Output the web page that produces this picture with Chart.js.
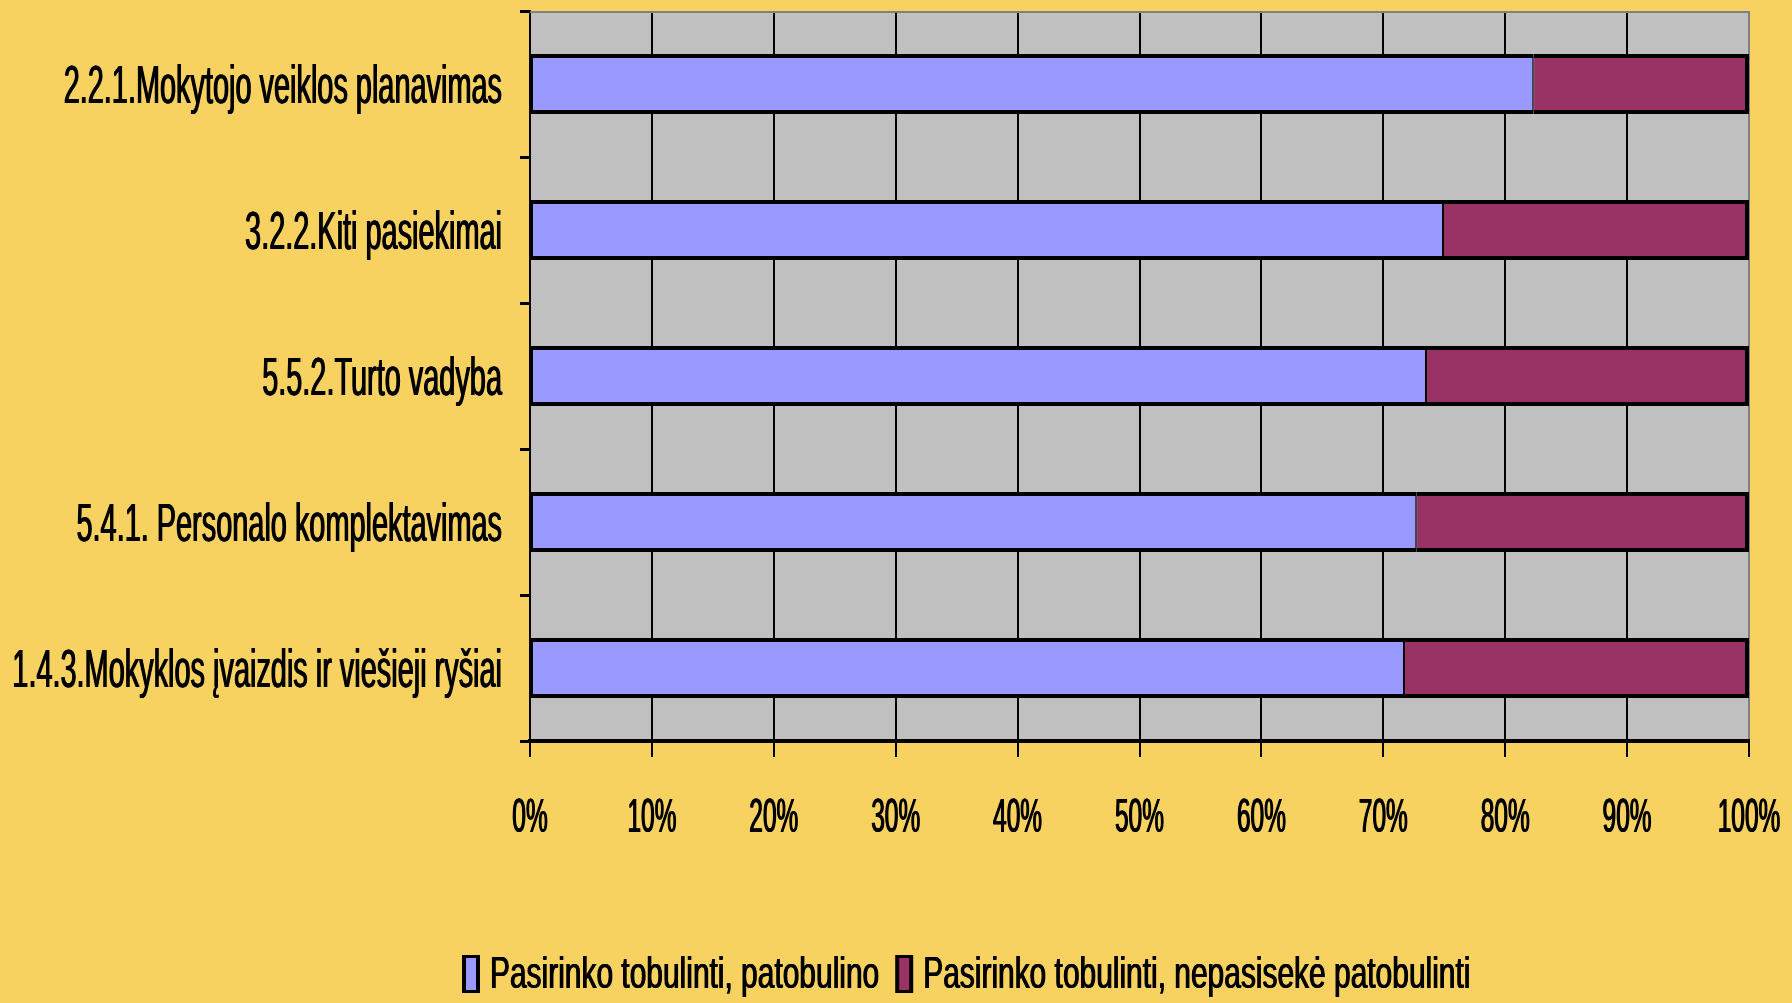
<!DOCTYPE html>
<html>
<head>
<meta charset="utf-8">
<script src="https://cdn.jsdelivr.net/npm/chart.js@4.4.1/dist/chart.umd.min.js"></script>
<style>
html,body{margin:0;padding:0;background:#F7D260;overflow:hidden}
#wrap{width:1792px;height:1003px;position:relative}
</style>
</head>
<body>
<div id="wrap"><canvas id="c"></canvas></div>
<script>
// ---- data ----
const categories = [
  '2.2.1.Mokytojo veiklos planavimas',
  '3.2.2.Kiti pasiekimai',
  '5.5.2.Turto vadyba',
  '5.4.1. Personalo komplektavimas',
  '1.4.3.Mokyklos įvaizdis ir viešieji ryšiai'
];
const improvedPct = [82.3, 74.9, 73.5, 72.7, 71.7];
const notImprovedPct = [17.7, 25.1, 26.5, 27.3, 28.3];
const seriesNames = ['Pasirinko tobulinti, patobulino', 'Pasirinko tobulinti, nepasisekė patobulinti'];
const seriesColors = ['#9999FF', '#993366'];
const xTickValues = [0, 10, 20, 30, 40, 50, 60, 70, 80, 90, 100];
const xTickLabels = ['0%', '10%', '20%', '30%', '40%', '50%', '60%', '70%', '80%', '90%', '100%'];

// ---- drawing helpers ----
const FONT = '"Liberation Sans", Arial, sans-serif';
const BG = '#F7D260';
const PLOT_BG = '#C0C0C0';

function drawNarrow(ctx, text, x, y, size, sx, align, bold) {
  let w = 0;
  const offs = [0, bold * 0.5, bold];
  offs.forEach((dx) => {
    ctx.save();
    ctx.translate(x + dx - bold / 2, y);
    ctx.scale(sx, 1);
    ctx.font = size + 'px ' + FONT;
    ctx.textAlign = align;
    ctx.textBaseline = 'alphabetic';
    ctx.fillStyle = '#000';
    ctx.fillText(text, 0, 0);
    w = ctx.measureText(text).width * sx;
    ctx.restore();
  });
  return w;
}

const decor = {
  id: 'decor',
  beforeDraw(chart) {
    const ctx = chart.ctx, a = chart.chartArea;
    ctx.save();
    ctx.fillStyle = BG;
    ctx.fillRect(0, 0, chart.width, chart.height);
    ctx.fillStyle = PLOT_BG;
    ctx.fillRect(a.left, a.top, a.right - a.left, a.bottom - a.top);
    ctx.restore();
  },
  beforeDatasetsDraw(chart) {
    const ctx = chart.ctx, a = chart.chartArea;
    ctx.save();
    ctx.strokeStyle = '#808080';
    ctx.lineWidth = 2;
    ctx.beginPath();
    ctx.moveTo(a.left, a.top + 1);
    ctx.lineTo(a.right + 1, a.top + 1);
    ctx.stroke();
    ctx.restore();
  },
  afterDraw(chart) {
    const ctx = chart.ctx, a = chart.chartArea;
    const ys = chart.scales.y, xs = chart.scales.x;
    // category labels
    categories.forEach((lab, i) => {
      const y = ys.getPixelForValue(i) + 19;
      drawNarrow(ctx, lab, a.left - 28, y, 54, 0.535, 'right', 1.0);
    });
    // value tick labels
    xTickValues.forEach((v, i) => {
      drawNarrow(ctx, xTickLabels[i], xs.getPixelForValue(v), 832, 48, 0.51, 'center', 1.0);
    });
    // legend
    let x = 462;
    chart.data.datasets.forEach((ds) => {
      ctx.save();
      ctx.fillStyle = '#000';
      ctx.fillRect(x, 955, 18, 38);
      ctx.fillStyle = ds.backgroundColor;
      ctx.fillRect(x + 4, 958, 10, 32);
      ctx.restore();
      const w = drawNarrow(ctx, ds.label, x + 28, 988, 44, 0.68, 'left', 1.0);
      x = x + 28 + w + 16;
    });
  }
};

new Chart(document.getElementById('c'), {
  type: 'bar',
  data: {
    labels: categories,
    datasets: [
      {
        label: seriesNames[0],
        data: improvedPct,
        backgroundColor: seriesColors[0],
        borderColor: '#000',
        borderWidth: {top: 4, bottom: 4, left: 2, right: 1},
        borderSkipped: false
      },
      {
        label: seriesNames[1],
        data: notImprovedPct,
        backgroundColor: seriesColors[1],
        borderColor: '#000',
        borderWidth: {top: 4, bottom: 4, left: 1, right: 4},
        borderSkipped: false
      }
    ]
  },
  options: {
    indexAxis: 'y',
    responsive: true,
    maintainAspectRatio: false,
    animation: false,
    devicePixelRatio: 1,
    layout: {padding: {left: 0, top: 11, right: 43, bottom: 0}},
    datasets: {bar: {barPercentage: 0.41, categoryPercentage: 1}},
    plugins: {legend: {display: false}, tooltip: {enabled: false}},
    scales: {
      x: {
        stacked: true,
        min: 0,
        max: 100,
        afterFit(scale) { scale.height = 262; },
        afterBuildTicks(scale) { scale.ticks = xTickValues.map(v => ({value: v})); },
        ticks: {display: false},
        grid: {
          color: (c) => (c.tick && c.tick.value === 100) ? '#808080' : '#000',
          lineWidth: 2,
          tickLength: 16,
          tickColor: '#000',
          tickWidth: 2,
          drawOnChartArea: true
        },
        border: {display: true, color: '#000', width: 4}
      },
      y: {
        stacked: true,
        offset: true,
        afterFit(scale) { scale.width = 530; },
        ticks: {display: false},
        grid: {
          offset: true,
          drawOnChartArea: false,
          drawTicks: true,
          tickLength: 10,
          color: '#000',
          lineWidth: 3,
          tickColor: '#000',
          tickWidth: 3
        },
        border: {display: true, color: '#000', width: 2}
      }
    }
  },
  plugins: [decor]
});
</script>
</body>
</html>
